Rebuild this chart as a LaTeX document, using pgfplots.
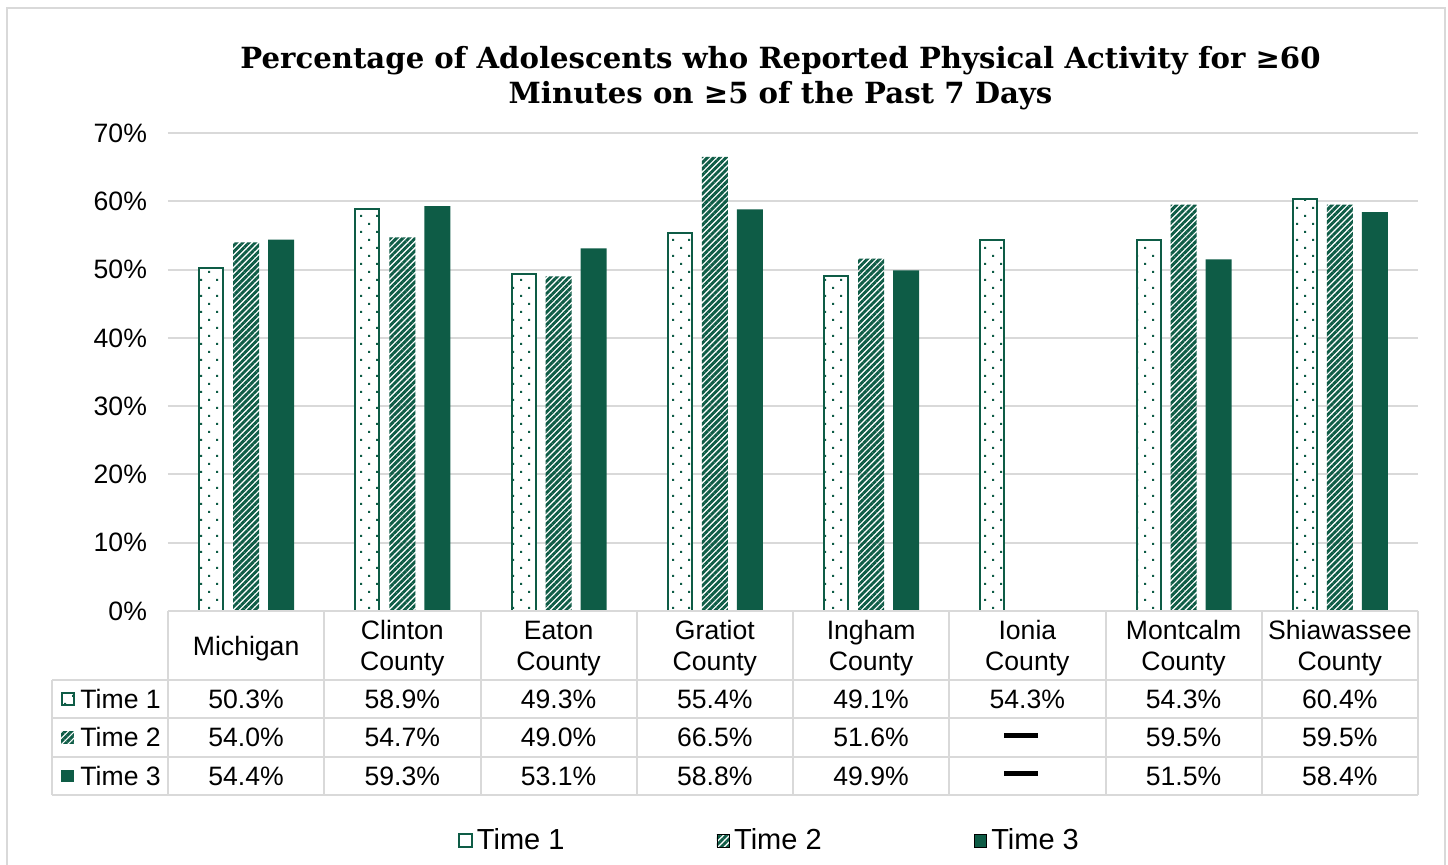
\documentclass[border=0pt]{standalone}
\usepackage{pgfplots}
\pgfplotsset{compat=1.18}
\usepackage{pgfplotstable}
\usepackage{fontspec}
\setmainfont{Liberation Sans}
\newfontfamily\titlefont{DejaVu Serif}
\usetikzlibrary{patterns,patterns.meta}
\definecolor{tgreen}{RGB}{14,92,70}
\definecolor{lgray}{RGB}{217,217,217}
\pgfdeclarepatternformonly{sparsedots}{\pgfqpoint{-0.5pt}{-0.5pt}}{\pgfqpoint{8.5pt}{8.5pt}}{\pgfqpoint{8pt}{8pt}}{%
  \pgfpathrectangle{\pgfqpoint{0pt}{0pt}}{\pgfqpoint{1pt}{1pt}}%
  \pgfpathrectangle{\pgfqpoint{4pt}{4pt}}{\pgfqpoint{1pt}{1pt}}%
  \pgfusepath{fill}}
\newcommand\tf{\fontsize{13.3}{15.5}\selectfont}
\protected\def\tdash{\rule{17pt}{2.5pt}}
\pgfplotsset{sqleg/.style={legend image code/.code={\draw[##1] (0pt,-3.2pt) rectangle (6.4pt,3.2pt);}}}
\pgfplotstableread{
x t1 t2 t3
0 50.3 54.0 54.4
1 58.9 54.7 59.3
2 49.3 49.0 53.1
3 55.4 66.5 58.8
4 49.1 51.6 49.9
5 54.3 nan nan
6 54.3 59.5 51.5
7 60.4 59.5 58.4
}\data
\begin{document}
\begin{tikzpicture}
\useasboundingbox (0,0) rectangle (724pt,432.5pt);
\draw[lgray, line width=1pt] (3.5pt,0) -- (3.5pt,428.5pt) -- (722.5pt,428.5pt) -- (722.5pt,0);
\node[font=\titlefont\bfseries\fontsize{14.58}{17}\selectfont, anchor=base] at (390.25pt,398pt) {Percentage of Adolescents who Reported Physical Activity for ≥60};
\node[font=\titlefont\bfseries\fontsize{14.58}{17}\selectfont, anchor=base] at (390.25pt,380.5pt) {Minutes on ≥5 of the Past 7 Days};
\begin{axis}[
  at={(84pt,127pt)}, anchor=south west,
  scale only axis, width=625pt, height=239pt,
  xmin=-0.5, xmax=7.5, ymin=0, ymax=70,
  clip=false,
  axis line style={draw=none},
  major tick length=0pt,
  ytick={0,10,...,70},
  yticklabel={\pgfmathprintnumber{\tick}\%},
  yticklabel style={font=\tf, xshift=-7pt},
  /pgf/number format/assume math mode=true,
  ymajorgrids,
  grid style={lgray, line width=1pt},
  xtick={0,...,7},
  xticklabels={Michigan,{Clinton\\County},{Eaton\\County},{Gratiot\\County},{Ingham\\County},{Ionia\\County},{Montcalm\\County},{Shiawassee\\County}},
  xticklabel style={font=\tf, align=center, anchor=center, yshift=-18.75pt},
  legend columns=3,
  legend style={draw=none, fill=none, font=\fontsize{14.5}{16}\selectfont, at={(axis description cs:0.482,-0.481)}, anchor=center,
    /tikz/every even column/.append style={column sep=74pt}},
]
\addplot[ybar, bar width=12pt, bar shift=-17.5pt, draw=tgreen, line width=1pt, fill=white, postaction={pattern=sparsedots, pattern color=tgreen}, sqleg] table[x=x,y=t1]{\data};
\addlegendentry{Time 1}
\addplot[ybar, bar width=13pt, bar shift=0pt, draw=none, pattern={Lines[angle=45, distance=2.2pt, line width=1.45pt]}, pattern color=tgreen, sqleg] table[x=x,y=t2]{\data};
\addlegendentry{Time 2}
\addplot[ybar, bar width=13pt, bar shift=17.5pt, draw=none, fill=tgreen, sqleg] table[x=x,y=t3]{\data};
\addlegendentry{Time 3}
% table lines
\draw[lgray, line width=1pt] (axis cs:-0.5,0) -- (axis cs:7.5,0);
\draw[lgray, line width=1pt] (axis cs:-1.242,-10.10) -- (axis cs:7.5,-10.10);
\draw[lgray, line width=1pt] (axis cs:-1.242,-15.67) -- (axis cs:7.5,-15.67);
\draw[lgray, line width=1pt] (axis cs:-1.242,-21.38) -- (axis cs:7.5,-21.38);
\draw[lgray, line width=1pt] (axis cs:-1.242,-26.95) -- (axis cs:7.5,-26.95);
\draw[lgray, line width=1pt] (axis cs:-1.242,-10.10) -- (axis cs:-1.242,-26.95);
\draw[lgray, line width=1pt] (axis cs:-0.5,0) -- (axis cs:-0.5,-26.95);
\draw[lgray, line width=1pt] (axis cs:0.5,0) -- (axis cs:0.5,-26.95);
\draw[lgray, line width=1pt] (axis cs:1.5,0) -- (axis cs:1.5,-26.95);
\draw[lgray, line width=1pt] (axis cs:2.5,0) -- (axis cs:2.5,-26.95);
\draw[lgray, line width=1pt] (axis cs:3.5,0) -- (axis cs:3.5,-26.95);
\draw[lgray, line width=1pt] (axis cs:4.5,0) -- (axis cs:4.5,-26.95);
\draw[lgray, line width=1pt] (axis cs:5.5,0) -- (axis cs:5.5,-26.95);
\draw[lgray, line width=1pt] (axis cs:6.5,0) -- (axis cs:6.5,-26.95);
\draw[lgray, line width=1pt] (axis cs:7.5,0) -- (axis cs:7.5,-26.95);
% table values
\addplot[draw=none, forget plot, point meta=explicit symbolic, nodes near coords, nodes near coords align={anchor=center},
  every node near coord/.append style={font=\tf, anchor=center}] coordinates {
(0,-12.89)[50.3\%] (1,-12.89)[58.9\%] (2,-12.89)[49.3\%] (3,-12.89)[55.4\%] (4,-12.89)[49.1\%] (5,-12.89)[54.3\%] (6,-12.89)[54.3\%] (7,-12.89)[60.4\%]
(0,-18.52)[54.0\%] (1,-18.52)[54.7\%] (2,-18.52)[49.0\%] (3,-18.52)[66.5\%] (4,-18.52)[51.6\%] (4.96,-18.3)[\tdash] (6,-18.52)[59.5\%] (7,-18.52)[59.5\%]
(0,-24.16)[54.4\%] (1,-24.16)[59.3\%] (2,-24.16)[53.1\%] (3,-24.16)[58.8\%] (4,-24.16)[49.9\%] (4.96,-23.8)[\tdash] (6,-24.16)[51.5\%] (7,-24.16)[58.4\%]
};
% row labels
\draw[tgreen, line width=1pt, fill=white, postaction={pattern=sparsedots, pattern color=tgreen}] (axis cs:-1.143,-12.89) ++(-3pt,-3pt) rectangle ++(6pt,6pt);
\draw[draw=none, pattern={Lines[angle=45, distance=2.2pt, line width=1.45pt]}, pattern color=tgreen] (axis cs:-1.143,-18.52) ++(-3.2pt,-3.2pt) rectangle ++(6.4pt,6.4pt);
\fill[tgreen] (axis cs:-1.143,-24.16) ++(-3.2pt,-3.2pt) rectangle ++(6.4pt,6.4pt);
\node[font=\tf, anchor=west, inner sep=0pt] at (axis cs:-1.063,-12.89) {Time 1};
\node[font=\tf, anchor=west, inner sep=0pt] at (axis cs:-1.063,-18.52) {Time 2};
\node[font=\tf, anchor=west, inner sep=0pt] at (axis cs:-1.063,-24.16) {Time 3};
\end{axis}
\end{tikzpicture}
\end{document}
